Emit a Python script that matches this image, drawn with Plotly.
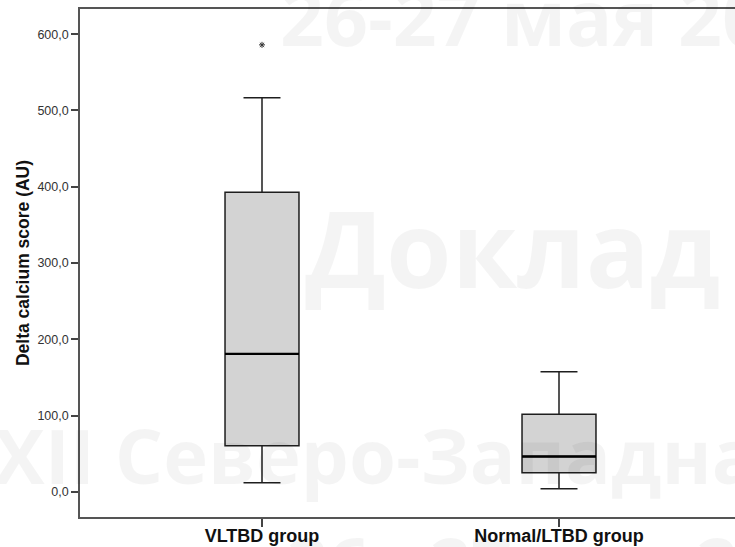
import plotly.graph_objects as go

# Group summary statistics (Delta calcium score, AU)
groups = ["VLTBD group", "Normal/LTBD group"]
positions = [0, 1]
q1 = [60.3, 24.9]
median = [180.9, 46.3]
q3 = [392.8, 101.8]
lower_whisker = [11.8, 3.9]
upper_whisker = [516.8, 157.3]
outlier_group = [0]
outlier_value = [586.0]

y_ticks = [0, 100, 200, 300, 400, 500, 600]

W, H = 735, 547
L, R, T, B = 80, 0, 9, 30
PW, PH = W - L - R, H - T - B
BOX_W = 0.249


def px_to_paper(px, py):
    return (px - L) / PW, (H - B - py) / PH


fig = go.Figure()

for i, g in enumerate(groups):
    fig.add_trace(go.Box(
        x=[positions[i]],
        q1=[q1[i]], median=[median[i]], q3=[q3[i]],
        lowerfence=[lower_whisker[i]], upperfence=[upper_whisker[i]],
        width=BOX_W, whiskerwidth=0.5,
        fillcolor="#d3d3d3",
        line=dict(color="#1e1e1e", width=1.5),
        boxpoints=False, hoverinfo="skip", name=g, showlegend=False,
    ))
    # heavier median bar
    fig.add_trace(go.Scatter(
        x=[positions[i] - BOX_W / 2, positions[i] + BOX_W / 2],
        y=[median[i], median[i]], mode="lines",
        line=dict(color="#000", width=2.4),
        showlegend=False, hoverinfo="skip",
    ))

fig.add_trace(go.Scatter(
    x=outlier_group, y=outlier_value, mode="markers",
    marker=dict(symbol="asterisk", size=5, color="#333",
                line=dict(color="#333", width=1)),
    showlegend=False, hoverinfo="skip",
))

# Faint background lettering
wm_color = "rgba(0,0,0,0.045)"
wm = [
    ("26-27 мая 20", 278, 17, 77, "left"),
    ("Доклад", 512, 247, 106, "center"),
    ("XII Северо-Западна", -8, 454, 76, "left"),
    ("26 - 27 мая 20", 285, 562, 72, "left"),
]
annotations = []
for text, px, py, size, anchor in wm:
    ax, ay = px_to_paper(px, py)
    annotations.append(dict(
        text=text, x=ax, y=ay, xref="paper", yref="paper",
        xanchor=anchor, yanchor="middle", showarrow=False,
        font=dict(family="Open Sans", size=size, color=wm_color, weight="bold"),
    ))

fig.update_layout(
    width=W, height=H,
    margin=dict(l=L, r=R, t=T, b=B, pad=0),
    paper_bgcolor="white", plot_bgcolor="white",
    separators=",.",
    annotations=annotations,
    font=dict(family="Liberation Sans, Arial, sans-serif", color="#333"),
)

fig.update_xaxes(
    range=[-0.6128, 1.5926], automargin=False,
    tickvals=positions, ticktext=groups,
    ticks="outside", ticklen=8, tickwidth=1.5, tickcolor="#444",
    ticklabelstandoff=-6,
    tickfont=dict(size=18, color="#111", weight="bold"),
    showline=True, linecolor="#555", linewidth=1.6, mirror=True,
    showgrid=False, zeroline=False,
)
fig.update_yaxes(
    range=[-33, 633], automargin=False,
    tickvals=y_ticks, tickformat=".1f",
    ticks="outside", ticklen=7, tickwidth=1.5, tickcolor="#444",
    tickfont=dict(size=12.5, color="#333"),
    showline=True, linecolor="#555", linewidth=1.6, mirror=False,
    showgrid=False, zeroline=False,
    title=dict(text="Delta calcium score (AU)",
               font=dict(size=17.5, color="#111", weight="bold"), standoff=3),
)

fig.write_html("out.html")
